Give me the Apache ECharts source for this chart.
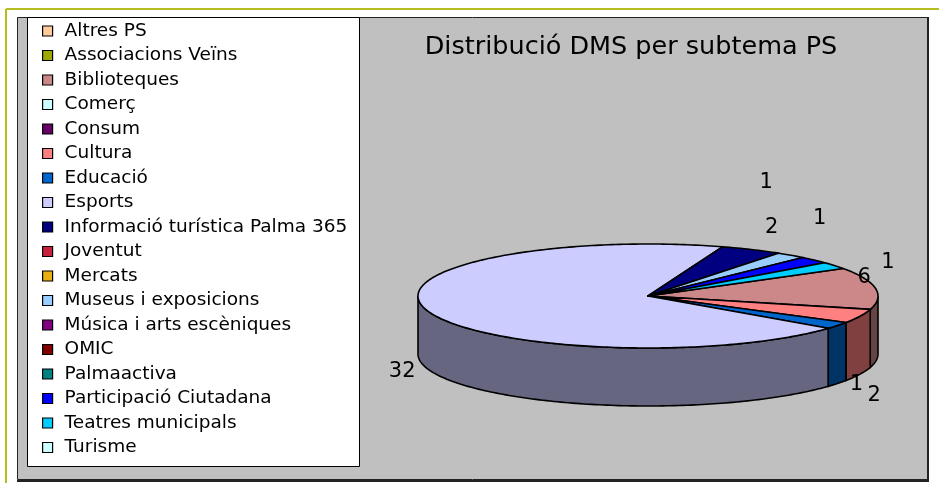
<!DOCTYPE html>
<html>
<head>
<meta charset="utf-8">
<title>Distribució DMS per subtema PS</title>
<script src="https://cdn.jsdelivr.net/npm/echarts@6/dist/echarts.min.js"></script>
<style>
  html, body { margin: 0; padding: 0; background: #fff; }
  #chart { width: 939px; height: 483px; }
</style>
</head>
<body>
<div id="chart"></div>
<script>
// dades del gràfic
const categories = [
  'Altres PS', 'Associacions Veïns', 'Biblioteques', 'Comerç', 'Consum',
  'Cultura', 'Educació', 'Esports', 'Informació turística Palma 365',
  'Joventut', 'Mercats', 'Museus i exposicions', 'Música i arts escèniques',
  'OMIC', 'Palmaactiva', 'Participació Ciutadana', 'Teatres municipals', 'Turisme'
];
const values = [0, 0, 6, 0, 0, 2, 1, 32, 2, 0, 0, 1, 0, 0, 0, 1, 1, 0];
const chartTitle = 'Distribució DMS per subtema PS';

// colors de cada subtema (estil)
const palette = [
  '#FFCC99', '#9CA800', '#CC8888', '#CCFFFF', '#660066',
  '#FF8080', '#0066CC', '#CCCCFF', '#000080', '#C8203C',
  '#E8B010', '#99CCFF', '#800080', '#800000', '#008080',
  '#0000FF', '#00CCFF', '#CCFFFF'
];

// geometria del pastís 3D (estil)
const pie = { cx: 648, cy: 296, rx: 230, ry: 52, depth: 58, start: 58 };
// petits desplaçaments de les etiquetes, com les col·loca l'Excel
const labelShift = {
  'Biblioteques': [-34, -10],
  'Cultura': [-7, 19],
  'Educació': [0, -2],
  'Esports': [-3, 1],
  'Informació turística Palma 365': [10, -17],
  'Museus i exposicions': [-39, -69],
  'Participació Ciutadana': [-11, -38],
  'Teatres municipals': [35, 0]
};

const FONT = 'DejaVu Sans';
const total = values.reduce((a, b) => a + b, 0);

function darker(hex) {
  const n = parseInt(hex.slice(1), 16);
  const r = (n >> 16) & 255, g = (n >> 8) & 255, b = n & 255;
  return 'rgb(' + Math.round(r / 2) + ',' + Math.round(g / 2) + ',' + Math.round(b / 2) + ')';
}

function ellPoint(deg, dy) {
  const t = deg * Math.PI / 180;
  return [pie.cx + pie.rx * Math.cos(t), pie.cy + pie.ry * Math.sin(t) + (dy || 0)];
}

function arcPoints(a1, a2, dy) {
  const pts = [];
  const steps = Math.max(2, Math.ceil(Math.abs(a2 - a1)));
  for (let k = 0; k <= steps; k++) {
    pts.push(ellPoint(a1 + (a2 - a1) * k / steps, dy));
  }
  return pts;
}

function makeRenderItem(idx) {
  return function (params, api) {
    const v = api.value(0);
    if (!v) return null;
    let before = 0;
    for (let i = 0; i < idx; i++) before += values[i];
    // angles en graus, sentit horari des de les 12
    const a1 = pie.start + before / total * 360 - 90;
    const a2 = a1 + v / total * 360;
    const color = palette[idx];
    const children = [];

    // cara lateral visible (meitat de davant)
    [[0, 180], [360, 540], [-360, -180]].forEach(function (w) {
      const b1 = Math.max(a1, w[0]);
      const b2 = Math.min(a2, w[1]);
      if (b2 > b1) {
        const top = arcPoints(b1, b2, 0);
        const bottom = arcPoints(b2, b1, pie.depth);
        children.push({
          type: 'polygon',
          z2: 1,
          shape: { points: top.concat(bottom) },
          style: { fill: darker(color), stroke: '#000', lineWidth: 1.6 }
        });
      }
    });

    // cara de dalt
    const topPts = [[pie.cx, pie.cy]].concat(arcPoints(a1, a2, 0));
    children.push({
      type: 'polygon',
      z2: 10,
      shape: { points: topPts },
      style: { fill: color, stroke: '#000', lineWidth: 1.6, lineJoin: 'round' }
    });

    // etiqueta del valor
    const mid = (a1 + a2) / 2 * Math.PI / 180;
    const s = Math.sin(mid);
    const shift = labelShift[categories[idx]] || [0, 0];
    const lx = pie.cx + 1.1 * pie.rx * Math.cos(mid) + shift[0];
    const ly = pie.cy + 1.1 * pie.ry * s + (s > 0 ? pie.depth : 0) + shift[1];
    children.push({
      type: 'text',
      z2: 20,
      x: lx,
      y: ly,
      style: {
        text: String(v),
        fill: '#000',
        font: '21px "' + FONT + '"',
        align: 'center',
        verticalAlign: 'middle'
      }
    });

    return { type: 'group', children: children };
  };
}

const series = categories.map(function (name, i) {
  return {
    type: 'custom',
    name: name,
    coordinateSystem: 'none',
    itemStyle: { color: palette[i] },
    data: [[values[i]]],
    renderItem: makeRenderItem(i)
  };
});

const chart = echarts.init(document.getElementById('chart'), null, { renderer: 'canvas' });
chart.setOption({
  animation: false,
  backgroundColor: '#fff',
  title: {
    text: chartTitle,
    left: 631,
    top: 31,
    textAlign: 'center',
    padding: 0,
    textStyle: { fontFamily: FONT, fontSize: 25.5, fontWeight: 'normal', color: '#000', lineHeight: 32 }
  },
  legend: {
    data: categories,
    orient: 'vertical',
    left: 42,
    top: 21,
    padding: 0,
    icon: 'rect',
    itemWidth: 10,
    itemHeight: 10,
    itemGap: 4.5,
    selectedMode: false,
    itemStyle: { borderColor: '#000', borderWidth: 1.2 },
    textStyle: { fontFamily: FONT, fontSize: 18.5, color: '#000', lineHeight: 20, padding: [0, 0, 0, 7] }
  },
  graphic: [
    { type: 'line', z: 0, shape: { x1: 6, y1: 9, x2: 939, y2: 9 }, style: { stroke: '#B5BE1E', lineWidth: 2 } },
    { type: 'line', z: 0, shape: { x1: 6, y1: 9, x2: 6, y2: 483 }, style: { stroke: '#B5BE1E', lineWidth: 2 } },
    { type: 'rect', z: 0, shape: { x: 17.5, y: 17.5, width: 910, height: 462 }, style: { fill: '#C0C0C0', stroke: '#222', lineWidth: 1 } },
    { type: 'line', z: 0, shape: { x1: 928, y1: 17, x2: 928, y2: 481 }, style: { stroke: '#222', lineWidth: 2 } },
    { type: 'line', z: 0, shape: { x1: 17, y1: 481, x2: 929, y2: 481 }, style: { stroke: '#222', lineWidth: 2 } },
    { type: 'rect', z: 1, shape: { x: 27.5, y: 17.5, width: 332, height: 449 }, style: { fill: '#fff', stroke: '#000', lineWidth: 1 } }
  ],
  series: series
});
</script>
</body>
</html>
